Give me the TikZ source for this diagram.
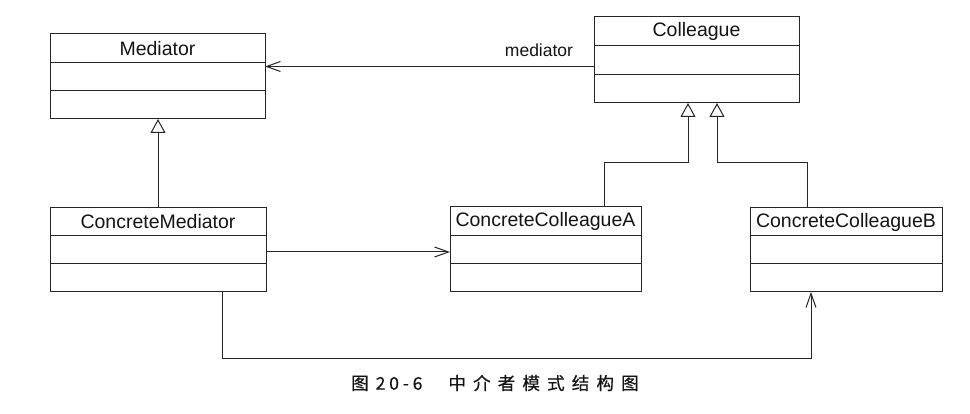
\documentclass[tikz,border=0pt]{standalone}
\usepackage{fontspec}
\setmainfont{Liberation Sans}
\newfontfamily\cjkfont[FakeBold=0.5]{Noto Sans CJK SC}
\usetikzlibrary{arrows.meta,calc}
\definecolor{linec}{HTML}{262626}
\definecolor{textc}{HTML}{141414}
\begin{document}
\begin{tikzpicture}[x=1pt,y=-1pt,
  classbox/.style={draw=linec, line width=1pt, inner sep=0pt, outer sep=0pt},
  cname/.style={text=textc, inner sep=0pt, font=\fontsize{19.5}{20}\selectfont},
  divline/.style={draw=linec, line width=1pt},
  lbl/.style={text=textc, inner sep=0pt, font=\fontsize{17.5}{18}\selectfont},
  assoc/.style={draw=linec, line width=1pt, -{Straight Barb[length=14pt,width=10pt,line width=1pt]}},
  inh/.style={draw=linec, line width=1pt, -{Triangle[open,length=14pt,width=15pt,line width=1pt]}},
  caption/.style={text=textc, inner sep=0pt, font=\cjkfont\fontsize{17.5}{18}\selectfont}
]
\useasboundingbox[fill=white] (0,0) rectangle (970,414);

% classes
\node[classbox, minimum width=215pt, minimum height=85pt] (med) at (157.5,76.5) {};
\node[classbox, minimum width=205pt, minimum height=86pt] (col) at (696.5,60) {};
\node[classbox, minimum width=216pt, minimum height=84pt] (cm)  at (158,250) {};
\node[classbox, minimum width=191pt, minimum height=85pt] (cca) at (545.5,249.5) {};
\node[classbox, minimum width=192pt, minimum height=84pt] (ccb) at (846,250) {};

\foreach \n/\t in {med/Mediator, col/Colleague, cm/ConcreteMediator, cca/ConcreteColleagueA, ccb/ConcreteColleagueB}{
  \node[cname] (\n-t) at ($(\n.north)!1/6!(\n.south)$) {\t};
  \draw[divline] ($(\n.north west)!1/3!(\n.south west)$) -- ($(\n.north east)!1/3!(\n.south east)$);
  \draw[divline] ($(\n.north west)!2/3!(\n.south west)$) -- ($(\n.north east)!2/3!(\n.south east)$);
}

% association Colleague -> Mediator
\coordinate (mline) at ([yshift=-6.5pt]col.west);
\draw[assoc] (mline) -- (mline -| med.east);
\node[lbl] (mlabel) at (539,50) {mediator};

% generalisation ConcreteMediator -> Mediator
\draw[inh] (cm.north) -- (cm.north |- med.south);

% generalisation ConcreteColleagueA/B -> Colleague
\coordinate (ka) at (604,163);
\coordinate (kb) at (807,163);
\draw[inh] (cca.north -| ka) -- (ka) -| ([xshift=-8.5pt]col.south);
\draw[inh] (ccb.north -| kb) -- (kb) -| ([xshift=20.5pt]col.south);

% association ConcreteMediator -> ConcreteColleagueA
\coordinate (aline) at ([yshift=-2pt]cm.east);
\draw[assoc] (aline) -- (aline -| cca.west);

% association ConcreteMediator -> ConcreteColleagueB
\coordinate (kc) at (222,358);
\coordinate (kd) at (811,358);
\draw[assoc] (cm.south -| kc) -- (kc) -- (kd) -- (ccb.south -| kd);

% caption
\node[caption, anchor=west] (cap) at (351,383) {图\hspace{7pt}{\addfontfeature{LetterSpace=22}20-6}\hspace{26pt}{\addfontfeature{LetterSpace=41}中介者模式结构图}};
\end{tikzpicture}
\end{document}
